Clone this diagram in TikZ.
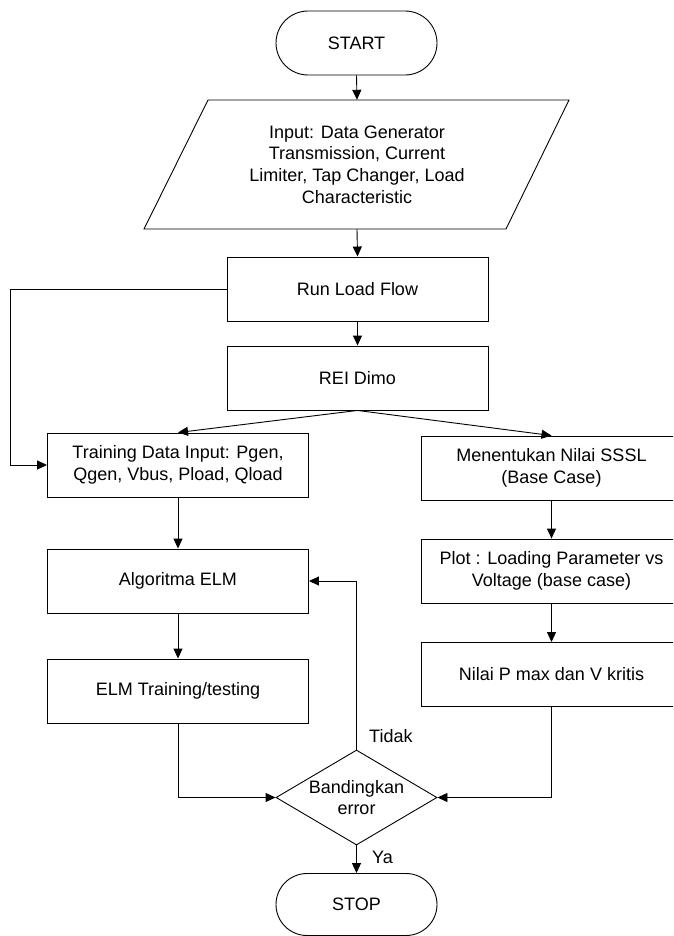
\documentclass[tikz,border=0pt]{standalone}
\usepackage{fontspec}
\setmainfont{Liberation Sans}
\usetikzlibrary{arrows.meta,shapes.geometric}
\begin{document}
\begin{tikzpicture}[x=1pt,y=-1pt,
  every node/.style={font=\fontsize{18}{21.6}\selectfont, align=center},
  box/.style={draw, line width=0.9pt, minimum width=261pt, minimum height=64pt, inner sep=0pt},
  term/.style={draw, line width=0.9pt, rounded corners=31pt, minimum width=161pt, minimum height=62pt, inner sep=0pt},
  arr/.style={line width=0.9pt, -{Triangle[length=10pt,width=9pt]}},
  link/.style={line width=0.9pt}]
\clip (0,0) rectangle (673,936);

% terminals
\node[term, minimum height=64pt, rounded corners=32pt] (start) at (356.5,43) {START};
\node[term] (stop) at (356.5,904.5) {STOP};

% input parallelogram
\node[minimum height=129pt, minimum width=300pt, inner sep=0pt] (inp) at (357,164.5)
  {Input: Data Generator\\Transmission, Current\\Limiter, Tap Changer, Load\\Characteristic};
\draw[link] (208,100) -- (569,100) -- (506,229) -- (144,229) -- cycle;

% process boxes
\node[box] (rlf) at (357.5,289) {Run Load Flow};
\node[box] (rei) at (357.5,378) {REI Dimo};
\node[box] (train) at (178,465) {Training Data Input: Pgen,\\Qgen, Vbus, Pload, Qload};
\node[box] (algo) at (178,581) {Algoritma ELM};
\node[box] (elm) at (178,691) {ELM Training/testing};
\node[box] (ment) at (551.5,468) {Menentukan Nilai SSSL\\(Base Case)};
\node[box] (plot) at (551.5,571) {Plot : Loading Parameter vs\\Voltage (base case)};
\node[box] (nilai) at (551.5,674.5) {Nilai P max dan V kritis};

% decision
\node[diamond, draw, line width=0.9pt, minimum width=161pt, minimum height=95pt, inner sep=0pt,
  label={[align=center]center:Bandingkan\\error}] (cmp) at (356.5,797.5) {};

% connectors
\draw[arr] (start.south) -- (inp.north);
\draw[arr] (inp.south) -- (rlf.north);
\draw[arr] (rlf.south) -- (rei.north);
\draw[arr] (rlf.west) -- ++(-216,0) |- (train.west);
\draw[arr] (rei.south) -- (train.north);
\draw[arr] (rei.south) -- (ment.north);
\draw[arr] (train.south) -- (algo.north);
\draw[arr] (algo.south) -- (elm.north);
\draw[arr] (ment.south) -- (plot.north);
\draw[arr] (plot.south) -- (nilai.north);
\draw[arr] (elm.south) |- (cmp.west);
\draw[arr] (nilai.south) |- (cmp.east);
\draw[arr] (cmp.north) |- (algo.east);
\draw[arr] (cmp.south) -- (stop.north);

% branch labels
\node[anchor=west, inner sep=0pt] (tidak) at (369,736) {Tidak};
\node[anchor=west, inner sep=0pt] (ya) at (372,857) {Ya};
\end{tikzpicture}
\end{document}
